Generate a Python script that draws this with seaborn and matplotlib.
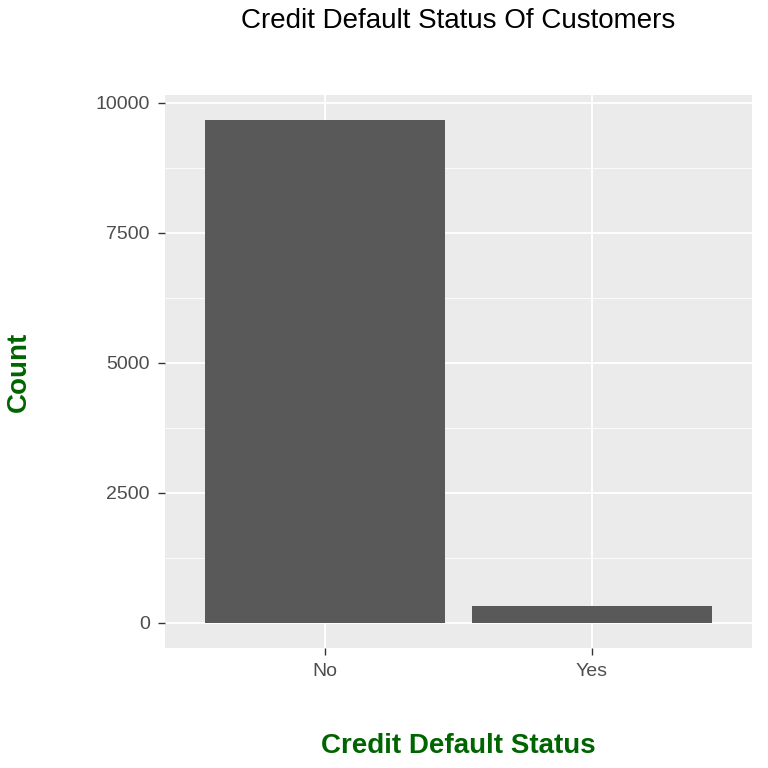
import matplotlib
matplotlib.use("Agg")
import matplotlib.pyplot as plt
import seaborn as sns
import pandas as pd

# Default counts by status
status = ["No", "Yes"]
counts = [9667, 333]
y_ticks = [0, 2500, 5000, 7500, 10000]

df = pd.DataFrame({"status": status, "count": counts})

sns.set_style("darkgrid", {"axes.facecolor": "#EBEBEB", "grid.color": "white",
                           "xtick.bottom": True, "ytick.left": True})
plt.rcParams["font.family"] = ["Liberation Sans", "DejaVu Sans"]

fig = plt.figure(figsize=(7.68, 7.68), dpi=100)
ax = fig.add_axes([165 / 768, 120 / 768, 587 / 768, 553 / 768])

sns.barplot(data=df, x="status", y="count", color="#595959", width=0.9,
            saturation=1, linewidth=0, ax=ax)

ax.set_xlim(-0.6, 1.6)
ax.set_ylim(-483, 10150)
ax.set_yticks(y_ticks)
ax.set_yticks([1250, 3750, 6250, 8750], minor=True)
ax.grid(which="major", color="white", linewidth=1.3)
ax.grid(which="minor", color="white", linewidth=0.6)
ax.tick_params(axis="both", which="major", length=5, width=1, color="#333333",
               labelsize=14, labelcolor="#4D4D4D", pad=6)
ax.tick_params(which="minor", length=0)
for s in ax.spines.values():
    s.set_visible(False)

ax.set_title("Credit Default Status Of Customers", fontsize=20, pad=48,
             color="black")
ax.set_xlabel("Credit Default Status", fontsize=20, fontweight="bold",
              color="#006400", labelpad=38)
ax.set_ylabel("Count", fontsize=20, fontweight="bold", color="#006400",
              labelpad=46)

plt.savefig("out.png", dpi=100)
